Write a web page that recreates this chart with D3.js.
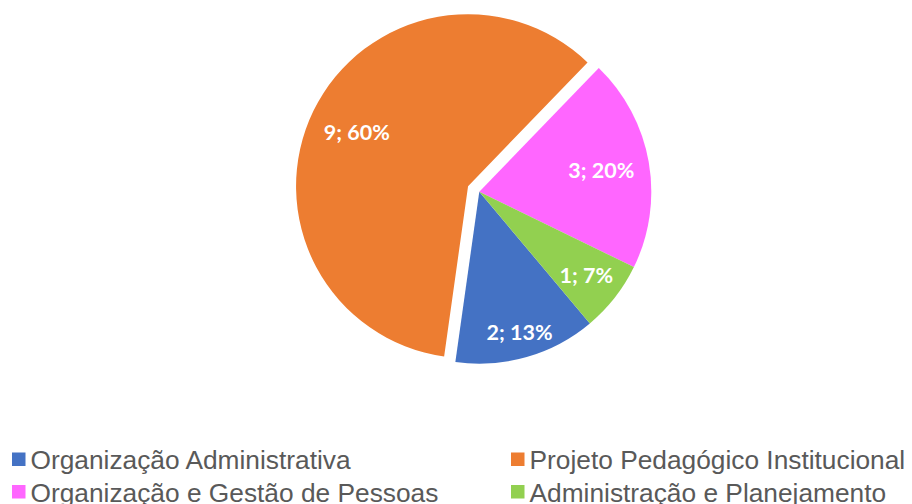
<!DOCTYPE html>
<html>
<head>
<meta charset="utf-8">
<script src="https://cdn.jsdelivr.net/npm/d3@7"></script>
<style>
  html, body { margin: 0; padding: 0; background: #ffffff; }
  svg { display: block; }
</style>
</head>
<body>
<svg id="chart" width="912" height="504"></svg>
<script>
// ---- data ----
const categories = [
  "Organização Administrativa",
  "Projeto Pedagógico Institucional",
  "Organização e Gestão de Pessoas",
  "Administração e Planejamento"
];
const values = [2, 9, 3, 1];
const percentLabels = ["13%", "60%", "20%", "7%"];
const colors = ["#4472C4", "#ED7D31", "#FF66FF", "#92D050"];
const explodedIndex = 1;
const labelRadiusFactor = [0.85, 0.72, 0.72, 0.79];
const legendOrder = [0, 1, 2, 3];

// ---- layout ----
const W = 912, H = 504;
const cx = 479.3, cy = 191.7, R = 172;
const explodeDist = 12.5;
const startDeg = 140;

const svg = d3.select("#chart");

const pie = d3.pie()
  .sort(null)
  .value(d => d)
  .startAngle(startDeg * Math.PI / 180)
  .endAngle(startDeg * Math.PI / 180 + 2 * Math.PI);

const arcs = pie(values);
const arc = d3.arc().innerRadius(0).outerRadius(R);

const g = svg.append("g").attr("transform", `translate(${cx},${cy})`);

function offsetFor(i, a) {
  if (i !== explodedIndex) return [0, 0];
  const mid = (a.startAngle + a.endAngle) / 2;
  return [Math.sin(mid) * explodeDist, -Math.cos(mid) * explodeDist];
}

g.selectAll("path.slice")
  .data(arcs)
  .join("path")
  .attr("class", "slice")
  .attr("d", arc)
  .attr("fill", (d, i) => colors[i])
  .attr("transform", (d, i) => {
    const [dx, dy] = offsetFor(i, d);
    return `translate(${dx},${dy})`;
  });

g.selectAll("text.lbl")
  .data(arcs)
  .join("text")
  .attr("class", "lbl")
  .attr("transform", (d, i) => {
    const rr = R * labelRadiusFactor[i];
    const la = d3.arc().innerRadius(rr).outerRadius(rr);
    const [x, y] = la.centroid(d);
    const [dx, dy] = offsetFor(i, d);
    return `translate(${x + dx},${y + dy})`;
  })
  .attr("text-anchor", "middle")
  .attr("dominant-baseline", "central")
  .attr("font-family", "Lato, 'Open Sans', sans-serif")
  .attr("font-weight", "bold")
  .attr("font-size", "21.5px")
  .attr("fill", "#ffffff")
  .text((d, i) => `${values[i]}; ${percentLabels[i]}`);

// ---- legend ----
const legendCols = [12, 511];
const legendRows = [452.5, 485];
const box = 13.5;
const leg = svg.append("g");
legendOrder.forEach((idx, k) => {
  const col = k % 2, row = Math.floor(k / 2);
  const x = legendCols[col], y = legendRows[row];
  leg.append("rect")
    .attr("x", x).attr("y", y)
    .attr("width", box).attr("height", box)
    .attr("fill", colors[idx]);
  leg.append("text")
    .attr("x", x + 18.5)
    .attr("y", y + 16.5)
    .attr("font-family", "'Liberation Sans', Arial, sans-serif")
    .attr("font-size", "26.3px")
    .attr("fill", "#595959")
    .text(categories[idx]);
});
</script>
</body>
</html>
